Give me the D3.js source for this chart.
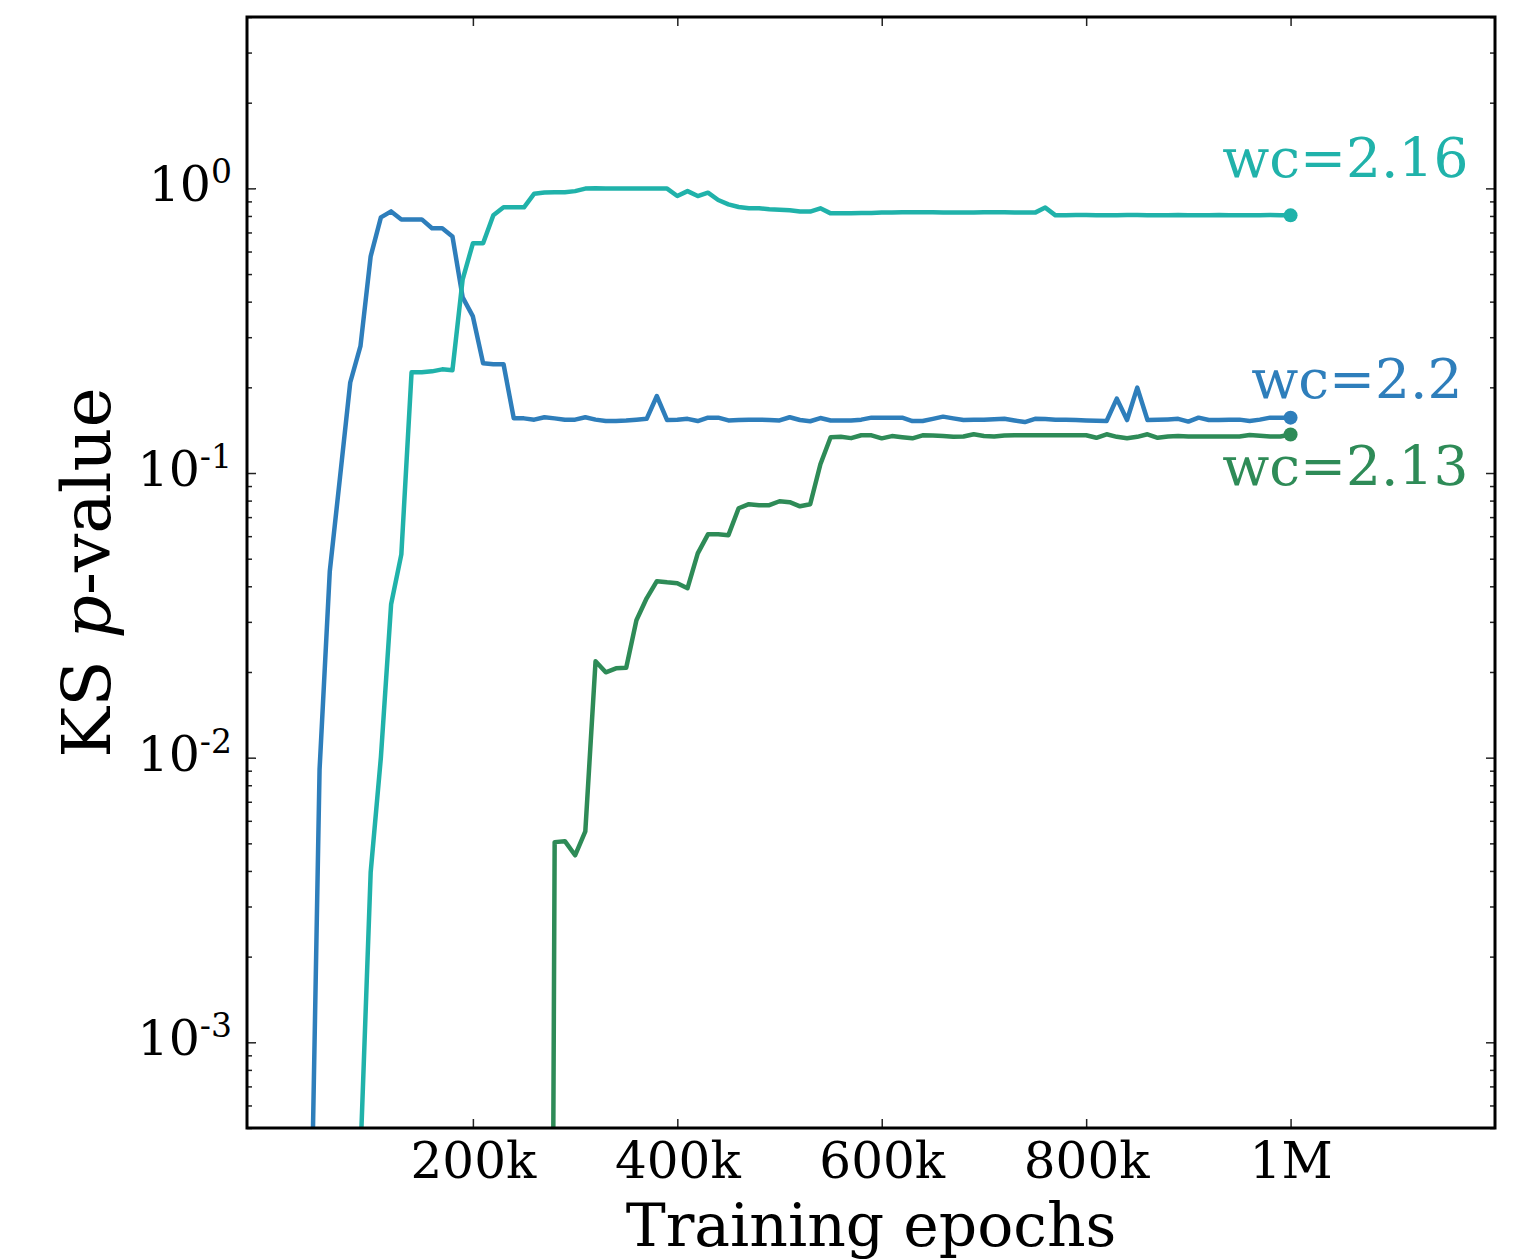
<!DOCTYPE html>
<html>
<head>
<meta charset="utf-8">
<script src="https://cdn.jsdelivr.net/npm/d3@7"></script>
<style>
  body { margin: 0; background: #fff; }
  text { font-family: "DejaVu Serif", serif; }
</style>
</head>
<body>
<div id="chart"></div>
<script>
// KS p-value per training epoch, sampled every 10k epochs
const step = 10000;

// wc=2.2, starting at 40k
const blueStart = 40000;
const blueValues = [
  1e-4, 0.0091, 0.0452, 0.0966, 0.208, 0.279, 0.577, 0.791, 0.830, 0.778,
  0.778, 0.778, 0.724, 0.724, 0.678, 0.414, 0.355, 0.243, 0.241, 0.241,
  0.1556, 0.1556, 0.154, 0.157, 0.1556, 0.154, 0.154, 0.157, 0.154, 0.1523,
  0.1523, 0.153, 0.154, 0.155, 0.1864, 0.1535, 0.154, 0.155, 0.1523, 0.1565,
  0.1565, 0.153, 0.1535, 0.154, 0.154, 0.1535, 0.153, 0.157, 0.1535, 0.152,
  0.156, 0.153, 0.153, 0.153, 0.154, 0.1565, 0.1565, 0.1565, 0.1565, 0.1523,
  0.1523, 0.155, 0.1578, 0.1556, 0.1535, 0.1538, 0.154, 0.1545, 0.155, 0.153,
  0.151, 0.155, 0.1548, 0.154, 0.1538, 0.1535, 0.153, 0.1526, 0.1523, 0.1825,
  0.1535, 0.1995, 0.1535, 0.1538, 0.1543, 0.155, 0.1516, 0.1565, 0.1535, 0.1537,
  0.154, 0.154, 0.1523, 0.154, 0.1565, 0.1565, 0.1565
];

// wc=2.16, starting at 80k
const tealStart = 80000;
const tealValues = [
  1e-6, 4e-4, 0.00396, 0.01003, 0.0346, 0.0518, 0.2258, 0.2258, 0.2276, 0.2313,
  0.2295, 0.479, 0.641, 0.641, 0.804, 0.858, 0.858, 0.858, 0.958, 0.968,
  0.970, 0.970, 0.978, 0.998, 1.0, 0.998, 0.998, 0.998, 0.998, 0.998,
  0.998, 0.998, 0.940, 0.978, 0.940, 0.966, 0.910, 0.879, 0.860, 0.851,
  0.851, 0.845, 0.842, 0.838, 0.830, 0.829, 0.851, 0.817,
  0.818, 0.818, 0.819, 0.82, 0.822, 0.822, 0.824, 0.825, 0.825, 0.824,
  0.823, 0.822, 0.822, 0.823, 0.825, 0.825, 0.824, 0.823, 0.822, 0.822,
  0.856, 0.804,
  0.805, 0.806, 0.806, 0.805, 0.804, 0.805, 0.806, 0.806, 0.805, 0.804,
  0.805, 0.806, 0.805, 0.804, 0.805, 0.806, 0.805, 0.804, 0.805, 0.805,
  0.806, 0.805, 0.804
];

// wc=2.13, starting at 270k
const greenStart = 270000;
const greenValues = [
  1e-10, 0.00505, 0.00509, 0.00454, 0.00551, 0.0218, 0.01995, 0.0206, 0.0207, 0.0304,
  0.0363, 0.0417, 0.0413, 0.0410, 0.0394, 0.0522, 0.0609, 0.0609, 0.0605, 0.0752,
  0.0777, 0.0771, 0.0771, 0.0796, 0.0790, 0.0764, 0.0777, 0.1073, 0.1335, 0.134,
  0.1326, 0.1357, 0.1357, 0.1324, 0.1348, 0.1335, 0.1324, 0.1357, 0.1354, 0.1348,
  0.134, 0.1343, 0.1368, 0.135, 0.1343, 0.1355, 0.1357, 0.1357, 0.1357, 0.1357,
  0.1357, 0.1357, 0.1357, 0.1357, 0.1330, 0.1368, 0.134, 0.1324, 0.134, 0.1368,
  0.1330, 0.1343, 0.1348, 0.1345, 0.1345, 0.1343, 0.1343, 0.1343, 0.1343, 0.136,
  0.1352, 0.1345, 0.1343, 0.1365
];

const seriesNames = ["wc=2.16", "wc=2.2", "wc=2.13"];
const seriesColors = ["#20b2aa", "#2e7ebb", "#2e8b57"];

const xTicks = [200000, 400000, 600000, 800000, 1000000];
const xTickLabels = ["200k", "400k", "600k", "800k", "1M"];
const yMajorExps = [-3, -2, -1, 0];

const width = 1527;
const height = 1260;
const margin = { top: 17, right: 32, bottom: 132, left: 247 };

const svg = d3.select("#chart")
  .append("svg")
  .attr("width", width)
  .attr("height", height);

const x = d3.scaleLinear()
  .domain([-21000, 1200000])
  .range([margin.left, width - margin.right]);

const y = d3.scaleLog()
  .domain([5e-4, 4])
  .range([height - margin.bottom, margin.top]);

const toPoints = (start, vals) => vals.map((v, i) => ({ e: start + i * step, v }));

const series = [
  { name: seriesNames[0], color: seriesColors[0], data: toPoints(tealStart, tealValues), dy: -38, dx: 178 },
  { name: seriesNames[1], color: seriesColors[1], data: toPoints(blueStart, blueValues), dy: -20, dx: 172 },
  { name: seriesNames[2], color: seriesColors[2], data: toPoints(greenStart, greenValues), dy: 50, dx: 178 }
];

// clip to the axes box
svg.append("clipPath").attr("id", "plot-clip")
  .append("rect")
  .attr("x", margin.left)
  .attr("y", margin.top)
  .attr("width", width - margin.left - margin.right)
  .attr("height", height - margin.top - margin.bottom);

const line = d3.line()
  .x(d => x(d.e))
  .y(d => y(d.v));

// draw in the stacking order of the original: blue, teal, green
[series[1], series[0], series[2]].forEach(s => {
  svg.append("path")
    .datum(s.data)
    .attr("clip-path", "url(#plot-clip)")
    .attr("fill", "none")
    .attr("stroke", s.color)
    .attr("stroke-width", 4.5)
    .attr("stroke-linejoin", "round")
    .attr("d", line);
});

series.forEach(s => {
  const last = s.data[s.data.length - 1];
  svg.append("circle")
    .attr("cx", x(last.e))
    .attr("cy", y(last.v))
    .attr("r", 7)
    .attr("fill", s.color);

  svg.append("text")
    .attr("x", x(last.e) + s.dx)
    .attr("y", y(last.v) + s.dy)
    .attr("text-anchor", "end")
    .attr("fill", s.color)
    .style("font-size", "55px")
    .text(s.name);
});

// axes: ticks on all four sides, pointing inwards
const x0 = margin.left, x1 = width - margin.right;
const y0 = height - margin.bottom, y1 = margin.top;

svg.append("g")
  .attr("transform", `translate(0, ${y0})`)
  .call(d3.axisBottom(x).tickValues(xTicks).tickSize(-9).tickFormat((d, i) => xTickLabels[i]))
  .call(g => g.select(".domain").remove())
  .call(g => g.selectAll(".tick line").attr("stroke", "#222").attr("stroke-width", 1.5))
  .call(g => g.selectAll(".tick text")
    .attr("y", 50)
    .attr("dy", 0)
    .attr("fill", "#000")
    .style("font-family", "DejaVu Serif")
    .style("font-size", "50px"));

svg.append("g")
  .attr("transform", `translate(0, ${y1})`)
  .call(d3.axisTop(x).tickValues(xTicks).tickSize(-9).tickFormat(""))
  .call(g => g.select(".domain").remove())
  .call(g => g.selectAll(".tick line").attr("stroke", "#222").attr("stroke-width", 1.5));

const yMajor = yMajorExps.map(k => Math.pow(10, k));
const yMinor = [];
[-4, -3, -2, -1, 0].forEach(k => {
  for (let m = 2; m <= 9; m++) {
    const v = m * Math.pow(10, k);
    if (v >= 5e-4 && v <= 4) yMinor.push(v);
  }
});

[[x0, d3.axisLeft], [x1, d3.axisRight]].forEach(([px, axisFn]) => {
  const gMin = svg.append("g")
    .attr("transform", `translate(${px}, 0)`)
    .call(axisFn(y).tickValues(yMinor).tickSize(-5).tickFormat(""));
  gMin.select(".domain").remove();
  gMin.selectAll(".tick line").attr("stroke", "#222").attr("stroke-width", 1.5);

  const gMaj = svg.append("g")
    .attr("transform", `translate(${px}, 0)`)
    .call(axisFn(y).tickValues(yMajor).tickSize(-9).tickFormat(""));
  gMaj.select(".domain").remove();
  gMaj.selectAll(".tick line").attr("stroke", "#222").attr("stroke-width", 1.5);
});

// y tick labels as 10^k
const yLabels = svg.append("g");
yMajorExps.forEach(k => {
  const t = yLabels.append("text")
    .attr("x", x0 - 15)
    .attr("y", y(Math.pow(10, k)) + 13)
    .attr("text-anchor", "end")
    .attr("fill", "#000")
    .style("font-size", "49px");
  t.append("tspan").text("10");
  t.append("tspan")
    .attr("dy", -18)
    .style("font-size", "33px")
    .text(k === 0 ? "0" : "-" + Math.abs(k));
});

// frame
svg.append("rect")
  .attr("x", x0)
  .attr("y", y1)
  .attr("width", x1 - x0)
  .attr("height", y0 - y1)
  .attr("fill", "none")
  .attr("stroke", "#000")
  .attr("stroke-width", 3);

// axis titles
svg.append("text")
  .attr("x", (x0 + x1) / 2)
  .attr("y", 1246)
  .attr("text-anchor", "middle")
  .style("font-size", "60px")
  .text("Training epochs");

const yTitle = svg.append("text")
  .attr("transform", `translate(110, ${(y0 + y1) / 2}) rotate(-90)`)
  .attr("text-anchor", "middle")
  .style("font-size", "68px");
yTitle.append("tspan").text("KS ");
yTitle.append("tspan").style("font-style", "italic").text("p");
yTitle.append("tspan").text("-value");
</script>
</body>
</html>
